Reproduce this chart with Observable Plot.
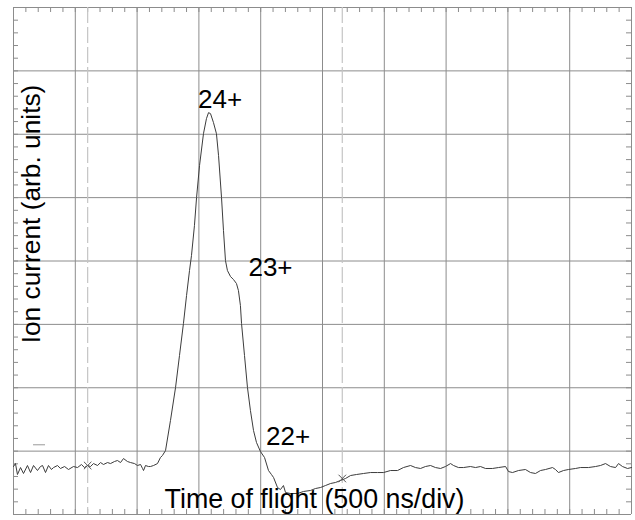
<!DOCTYPE html>
<html><head><meta charset="utf-8">
<script src="https://cdn.jsdelivr.net/npm/d3@7"></script>
<script src="https://cdn.jsdelivr.net/npm/@observablehq/plot@0.6"></script>
<style>html,body{margin:0;padding:0;background:#fff}</style>
</head><body><div id="chart"></div>
<script>
// Time of flight (ns), 500 ns per division, 10 divisions
const time = [0,16,32,57,81,113,138,162,194,218,235,259,283,307,324,356,380,413,445,485,518,550,574,599,623,647,680,704,728,761,785,817,841,866,890,922,947,979,1003,1028,1044,1052,1068,1092,1108,1133,1165,1189,1205,1230,
1270,1311,1343,1375,1400,1424,1440,1464,1481,1505,1537,1561,1578,1594,1618,1642,1659,1683,1699,1715,1731,1756,1780,1804,1820,1836,1845,1869,1893,1917,1942,1966,1998,2031,2063,2087,2104,2136,2160,2184,2201,2241,2298,2346,2403,2443,2484,2524,2565,2605,2645,2686,2727,2775,2832,2888,2945,2994,3050,3107,3155,3212,3252,3293,3333,3374,3414,3455,3495,3536,3560,3600,3641,3697,3738,3778,3819,3875,3924,3981,4005,4037,4086,4142,4183,4223,4264,4304,4361,4385,4409,4450,4490,4547,4587,4652,4709,4749,4790,4830,4871,4895,4927,4968,5000];
// Ion current (arb. units, in screen divisions)
const current = [0.757,0.804,0.631,0.741,0.647,0.773,0.662,0.773,0.694,0.757,0.773,0.662,0.773,0.710,0.741,0.773,0.726,0.757,0.710,0.757,0.741,0.789,0.741,0.773,0.757,0.804,0.773,0.820,0.789,0.820,0.804,0.836,0.852,0.820,0.883,0.836,0.820,0.804,0.773,0.789,0.726,0.694,0.773,0.757,0.757,0.773,0.804,0.899,0.931,1.009,
1.483,2.003,2.508,3.013,3.454,3.849,4.085,4.558,5.000,5.505,6.009,6.246,6.341,6.325,6.183,6.009,5.662,5.000,4.479,4.006,3.849,3.754,3.707,3.644,3.533,3.297,3.013,2.508,2.003,1.640,1.325,1.136,0.994,0.899,0.694,0.631,0.584,0.426,0.394,0.457,0.347,0.331,0.331,0.363,0.379,0.410,0.426,0.457,0.489,0.505,0.536,0.568,0.615,0.631,0.647,0.662,0.662,0.662,0.694,0.694,0.741,0.773,0.741,0.726,0.757,0.773,0.741,0.726,0.757,0.804,0.773,0.741,0.741,0.757,0.741,0.757,0.726,0.726,0.741,0.757,0.678,0.662,0.694,0.710,0.662,0.647,0.694,0.710,0.741,0.710,0.662,0.694,0.710,0.726,0.741,0.741,0.757,0.773,0.804,0.757,0.741,0.804,0.757,0.726,0.741];

const majorX = [0,500,1000,1500,2000,2500,3000,3500,4000,4500,5000];
const majorY = [0,1,2,3,4,5,6,7,8];
const minorX = d3.range(0, 51).map(i => i * 100);
const minorY = d3.range(0, 41).map(i => i * 0.2);

const cursorTimes = [600, 2660];
const cursorLevels = [0.773, 0.568];
const groundLevel = 1.10;
const groundStart = 162, groundEnd = 259;

const peakNames = ["24+", "23+", "22+"];
const peakTimes = [1671, 2079, 2221];
const peakLevels = [6.42, 3.77, 1.09];

const xTitle = "Time of flight (500 ns/div)";
const yTitle = "Ion current (arb. units)";

const trace = time.map((t, i) => ({t, v: current[i]}));
const cursors = cursorTimes.map((t, i) => ({t, v: cursorLevels[i]}));
const peaks = peakNames.map((n, i) => ({n, t: peakTimes[i], v: peakLevels[i]}));

const grid = "#8c8c8c";
const chart = Plot.plot({
  width: 635, height: 520,
  marginLeft: 13, marginRight: 4, marginTop: 7, marginBottom: 6,
  x: {domain: [0, 5000], axis: null},
  y: {domain: [0, 8], axis: null},
  style: {fontFamily: "'Liberation Sans', Arial, Helvetica, sans-serif", background: "#fff", color: "#000"},
  marks: [
    Plot.ruleX(majorX, {stroke: grid, strokeWidth: 1}),
    Plot.ruleY(majorY, {stroke: grid, strokeWidth: 1}),
    Plot.tickX(minorX, {x: d => d, stroke: grid, insetBottom: 502}),
    Plot.tickX(minorX, {x: d => d, stroke: grid, insetTop: 502}),
    Plot.tickY(minorY, {y: d => d, stroke: grid, insetRight: 613}),
    Plot.tickY(minorY, {y: d => d, stroke: grid, insetLeft: 613}),
    Plot.ruleX(cursorTimes, {stroke: "#c4c4c4", strokeWidth: 1.2, strokeDasharray: "16,4"}),
    Plot.ruleY([groundLevel], {x1: groundStart, x2: groundEnd, stroke: "#9a9a9a"}),
    Plot.line(trace, {x: "t", y: "v", stroke: "#3c3c3c", strokeWidth: 1}),
    Plot.dot(cursors, {x: "t", y: "v", symbol: "times", r: 3.5, stroke: "#555", strokeWidth: 1}),
    Plot.text(peaks, {x: "t", y: "v", text: "n", lineAnchor: "bottom", fontSize: 26, fill: "#000"}),
    Plot.text([xTitle], {frameAnchor: "bottom", textAnchor: "middle", dx: -8, dy: -7, lineAnchor: "bottom", fontSize: 26.8, fill: "#000"}),
    Plot.text([yTitle], {frameAnchor: "left", textAnchor: "middle", rotate: -90, lineAnchor: "top", dx: 8, dy: -47, fontSize: 26.3, fill: "#000"})
  ]
});
document.getElementById("chart").appendChild(chart);
</script>
</body></html>
